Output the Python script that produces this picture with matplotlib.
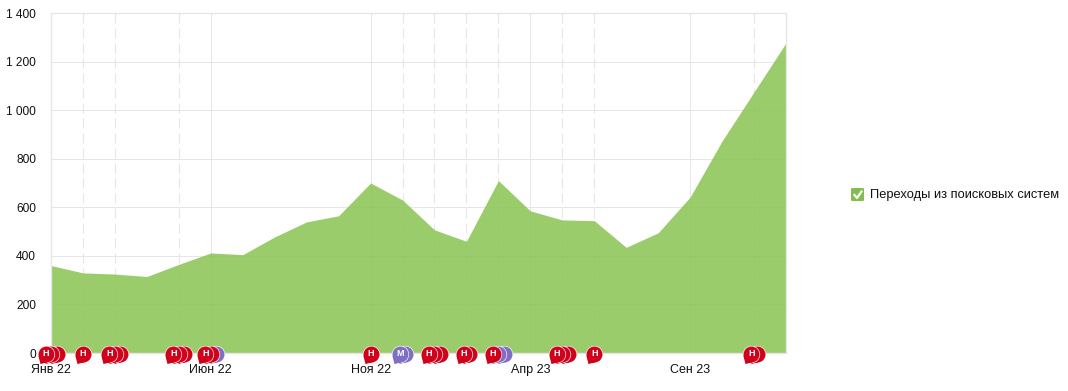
import matplotlib
matplotlib.use('Agg')
import matplotlib.pyplot as plt
from matplotlib.path import Path
from matplotlib.patches import FancyBboxPatch
from matplotlib.transforms import ScaledTranslation
import numpy as np

plt.rcParams['font.family'] = ['Liberation Sans', 'DejaVu Sans']

# months since Jan 22
visits = [360, 330, 325, 315, 365, 412, 405, 478, 540, 565, 700, 630,
          507, 460, 710, 585, 548, 545, 435, 495, 642, 873, 1075, 1277]
tick_months = [0, 5, 10, 15, 20]
tick_labels = ["Янв 22", "Июн 22", "Ноя 22", "Апр 23", "Сен 23"]
y_ticks = [0, 200, 400, 600, 800, 1000, 1200, 1400]
y_labels = ["0", "200", "400", "600", "800", "1 000", "1 200", "1 400"]
dashed_months = [1, 2, 4, 11, 12, 13, 14, 16, 17, 22]
# month, letters of the stacked flags (first one is on top)
flags = [(0, "ННН"), (1, "Н"), (2, "ННН"), (4, "ННН"), (5, "ННМ"), (10, "Н"),
         (11, "ММ"), (12, "ННН"), (13, "НН"), (14, "НММ"), (16, "ННН"),
         (17, "Н"), (22, "НН")]
flag_colors = {"Н": "#d0021b", "М": "#7e6fc4"}
series_name = "Переходы из поисковых систем"

GRID = "#e6e6e6"
PX = 0.72  # points per pixel at dpi 100

fig = plt.figure(figsize=(10.68, 3.91), dpi=100)
ax = fig.add_axes([51 / 1068, 1 - 353 / 391, 735 / 1068, 340 / 391])

months = np.arange(len(visits))
ax.fill_between(months, visits, 0, color="#89c451", alpha=0.85, lw=0, zorder=2)
ax.set_xlim(0, 23)
ax.set_ylim(0, 1400)

ax.set_yticks(y_ticks)
ax.set_yticklabels(y_labels, fontsize=8.6, color="#111111")
ax.set_xticks(tick_months)
ax.set_xticklabels(tick_labels, fontsize=9, color="#111111")
ax.tick_params(axis='y', length=0, pad=15 * PX)
ax.tick_params(axis='x', length=0, pad=8)
ax.grid(color=GRID, lw=PX, zorder=1)
ax.set_axisbelow(True)
for m in dashed_months:
    ax.plot([m, m], [1400, 0], color=GRID, lw=0.8, ls=(0, (9, 4.5)), zorder=1)
for s in ax.spines.values():
    s.set_color(GRID)
    s.set_linewidth(1)

# speech bubble: unit circle with a tail at the lower left
circle = Path.unit_circle()
tail = Path([(-1.0, -0.2), (-0.75, -1.2), (0.1, -0.95), (-1.0, -0.2)],
            [Path.MOVETO, Path.LINETO, Path.LINETO, Path.CLOSEPOLY])
bubble = Path.make_compound_path(circle, tail)
size = 16 * 1.2 * PX

for month, letters in flags:
    n = len(letters)
    for i in range(n - 1, -1, -1):
        dx = (i - (n - 1) / 2) * 5.5
        shift = ScaledTranslation(dx * PX / 72, -PX / 72, fig.dpi_scale_trans)
        z = 10 + (n - i) * 2
        # white halo first, then the bubble itself
        ax.plot([month], [0], marker=bubble, ms=size * 1.08, mfc="white", mew=0, clip_on=False,
                zorder=z, ls='none', transform=ax.transData + shift)
        ax.plot([month], [0], marker=bubble, ms=size, mfc=flag_colors[letters[i]], mew=0, clip_on=False,
                zorder=z + 1, ls='none', transform=ax.transData + shift)
    ax.annotate(letters[0], (month, 0), xytext=(-(n - 1) / 2 * 5.5 * PX, -PX), textcoords='offset points',
                ha='center', va='center', fontsize=6.5, fontweight='bold', color="white",
                zorder=20, annotation_clip=False)

# legend
box = FancyBboxPatch((851 / 1068, 1 - 201 / 391), 13 / 1068, 13 / 391, transform=fig.transFigure,
                     boxstyle="round,pad=0,rounding_size=0.002", fc="#84bd4f", ec="none")
fig.patches.append(box)
fig.add_artist(plt.Line2D([854.5 / 1068, 857 / 1068, 861.5 / 1068],
                          [1 - 195 / 391, 1 - 198 / 391, 1 - 191.5 / 391], color="white", lw=1.6))
fig.text(870 / 1068, 1 - 195 / 391, series_name, fontsize=9.3, color="#111111", va='center', ha='left')

fig.savefig("out.png", dpi=100)
